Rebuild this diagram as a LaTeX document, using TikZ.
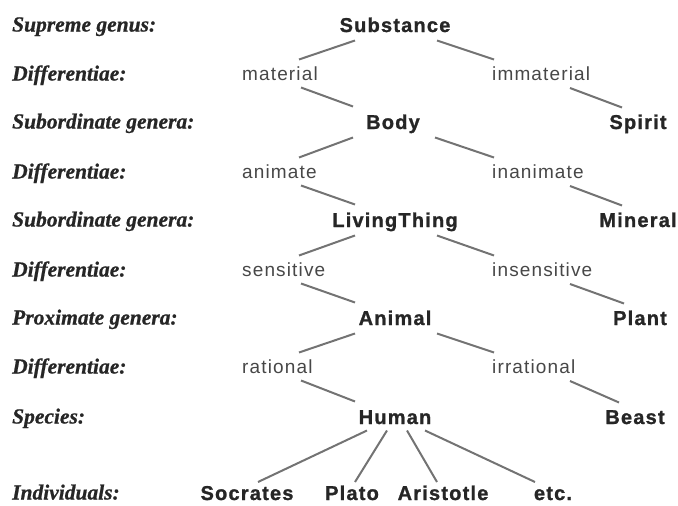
\documentclass[tikz,border=0pt]{standalone}
\usepackage{fontspec}
\usetikzlibrary{calc}
\newfontfamily\genusfont{Liberation Sans}[LetterSpace=6,FakeBold=1.2]
\newfontfamily\difffont{Liberation Sans}[LetterSpace=6]
\newfontfamily\levelfont{Liberation Serif}[FakeBold=0.8]
\begin{document}
\begin{tikzpicture}[x=1pt,y=-1pt,
  genus/.style={anchor=base,inner sep=0pt,text=black!85,font=\genusfont\bfseries\fontsize{20}{22}\selectfont},
  diffl/.style={anchor=base west,inner sep=0pt,text=black!72,font=\difffont\fontsize{19}{21}\selectfont},
  level/.style={anchor=base west,inner sep=0pt,text=black!85,font=\levelfont\bfseries\itshape\fontsize{21.5}{23}\selectfont},
  branch/.style={draw=black!55,line width=2pt}]
\useasboundingbox (0,0) rectangle (678,506);

% row labels on the left
\foreach \txt/\yy in {Supreme genus:/25, Differentiae:/74, Subordinate genera:/122,
    Differentiae:/172, Subordinate genera:/220, Differentiae:/270,
    Proximate genera:/318, Differentiae:/367, Species:/417, Individuals:/493}
  \node[level] at (12,\yy+6.5) {\txt};

% genera, central column
\node[genus] (sub) at (395,32) {Substance};
\node[genus] (body) at (393,129) {Body};
\node[genus] (living) at (395,227) {LivingThing};
\node[genus] (animal) at (395,325) {Animal};
\node[genus] (human) at (395,424) {Human};

% genera, right column
\node[genus] (spirit) at (638,129) {Spirit};
\node[genus] (mineral) at (638,227) {Mineral};
\node[genus] (plant) at (640,325) {Plant};
\node[genus] (beast) at (635,424) {Beast};

% differentiae
\node[diffl] (mat) at (242,80.5) {material};
\node[diffl] (immat) at (492,80.5) {immaterial};
\node[diffl] (anim) at (242,178.5) {animate};
\node[diffl] (inanim) at (492,178.5) {inanimate};
\node[diffl] (sens) at (242,276.5) {sensitive};
\node[diffl] (insens) at (492,276.5) {insensitive};
\node[diffl] (rat) at (242,373.5) {rational};
\node[diffl] (irrat) at (492,373.5) {irrational};

% individuals
\node[genus] (socr) at (247,500) {Socrates};
\node[genus] (plato) at (352,500) {Plato};
\node[genus] (arist) at (443,500) {Aristotle};
\node[genus] (etc) at (553,500) {etc.};

% genus -> differentiae
\foreach \g/\l/\r in {sub/mat/immat, body/anim/inanim, living/sens/insens, animal/rat/irrat} {
  \draw[branch] ($(\g.base)+(-40,8.5)$) -- ($(\l.base west)+(57,-21)$);
  \draw[branch] ($(\g.base)+(42,8.5)$) -- ($(\r.base west)+(2,-21)$);
}
% left differentia -> next genus
\foreach \l/\c in {mat/body, anim/living, sens/animal, rat/human}
  \draw[branch] ($(\l.base west)+(59,7)$) -- ($(\c.base)+(-40,-22.5)$);
% right differentia -> opposite genus
\foreach \r/\c in {immat/spirit, inanim/mineral, insens/plant, irrat/beast}
  \draw[branch] ($(\r.base west)+(78,7.5)$) -- ($(\c.base)+(-16,-21.5)$);

% species -> individuals
\draw[branch] ($(human.base)+(-28,6.5)$) -- ($(socr.base)+(11,-18)$);
\draw[branch] ($(human.base)+(-8,6.5)$) -- ($(plato.base)+(3,-18)$);
\draw[branch] ($(human.base)+(12,6.5)$) -- ($(arist.base)+(-6,-18)$);
\draw[branch] ($(human.base)+(30,6.5)$) -- ($(etc.base)+(-18,-18)$);
\end{tikzpicture}
\end{document}
